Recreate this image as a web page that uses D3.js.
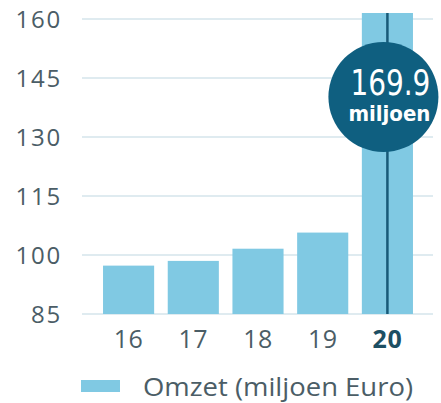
<!DOCTYPE html>
<html><head><meta charset="utf-8">
<script src="https://cdn.jsdelivr.net/npm/d3@7"></script>
<style>body{margin:0;background:#fff}svg{display:block}</style>
</head><body>
<svg id="c" width="441" height="403"></svg>
<script>
const categories = ["16","17","18","19","20"];
const values = [97.3, 98.5, 101.6, 105.7, 169.9];
const yTicks = [85,100,115,130,145,160];
const seriesName = "Omzet (miljoen Euro)";
const calloutValue = "169.9";
const calloutUnit = "miljoen";

const svg = d3.select("#c");
const x = d3.scaleBand().domain(categories).range([93,423]).paddingInner(0.21).paddingOuter(0.155);
const y = d3.scaleLinear().domain([85,160]).range([314,19]);
const barCol = "#80c9e3", dark = "#0f5f80", txt = "#4b5d66", grid = "#d5e5eb";

svg.append("defs").append("clipPath").attr("id","clip")
  .append("rect").attr("x",0).attr("y",y(161.5)).attr("width",441).attr("height",403);

// gridlines
svg.append("g").selectAll("line").data(yTicks).join("line")
  .attr("x1",82).attr("x2",433).attr("y1",d=>y(d)).attr("y2",d=>y(d))
  .attr("stroke",grid).attr("stroke-width",1.5);

// y labels
svg.append("g").selectAll("text").data(yTicks).join("text")
  .attr("x",62).attr("y",d=>y(d)).attr("dy","0.36em").attr("text-anchor","end")
  .attr("font-family","Open Sans").attr("font-size",24).attr("letter-spacing",1.8)
  .attr("fill",txt).text(d=>d);

// bars
svg.append("g").attr("clip-path","url(#clip)").selectAll("rect").data(values).join("rect")
  .attr("x",(d,i)=>x(categories[i])).attr("width",x.bandwidth())
  .attr("y",d=>y(d)).attr("height",d=>y(85)-y(d)).attr("fill",barCol);

// line in last bar
const last = categories[categories.length-1];
const cx = x(last)+x.bandwidth()/2;
svg.append("line").attr("x1",cx).attr("x2",cx).attr("y1",y(161.5)).attr("y2",y(85))
  .attr("stroke","#185a78").attr("stroke-width",2.5);

// callout
svg.append("circle").attr("cx",cx-4).attr("cy",97).attr("r",55).attr("fill",dark);
svg.append("text").attr("x",cx+3).attr("y",95).attr("text-anchor","middle")
  .attr("font-family","DejaVu Sans Condensed").attr("font-size",35).attr("fill","#fff")
  .attr("textLength",80).attr("lengthAdjust","spacingAndGlyphs").text(calloutValue);
svg.append("text").attr("x",cx+2).attr("y",121).attr("text-anchor","middle")
  .attr("font-family","DejaVu Sans Condensed").attr("font-weight","bold").attr("font-size",21).attr("fill","#fff")
  .attr("textLength",82).attr("lengthAdjust","spacingAndGlyphs").text(calloutUnit);

// x labels
svg.append("g").selectAll("text").data(categories).join("text")
  .attr("x",d=>x(d)+x.bandwidth()/2).attr("y",348).attr("text-anchor","middle")
  .attr("font-family","Open Sans").attr("font-size",25).attr("letter-spacing",0.5)
  .attr("font-weight",d=>d===last?"bold":"normal")
  .attr("fill",d=>d===last?"#1d4f63":txt).text(d=>d);

// legend
svg.append("rect").attr("x",81).attr("y",380).attr("width",39).attr("height",12).attr("fill",barCol);
svg.append("text").attr("x",143).attr("y",396).attr("font-family","Open Sans").attr("font-size",25)
  .attr("fill",txt).attr("textLength",270).attr("lengthAdjust","spacingAndGlyphs").text(seriesName);
</script>
</body></html>
